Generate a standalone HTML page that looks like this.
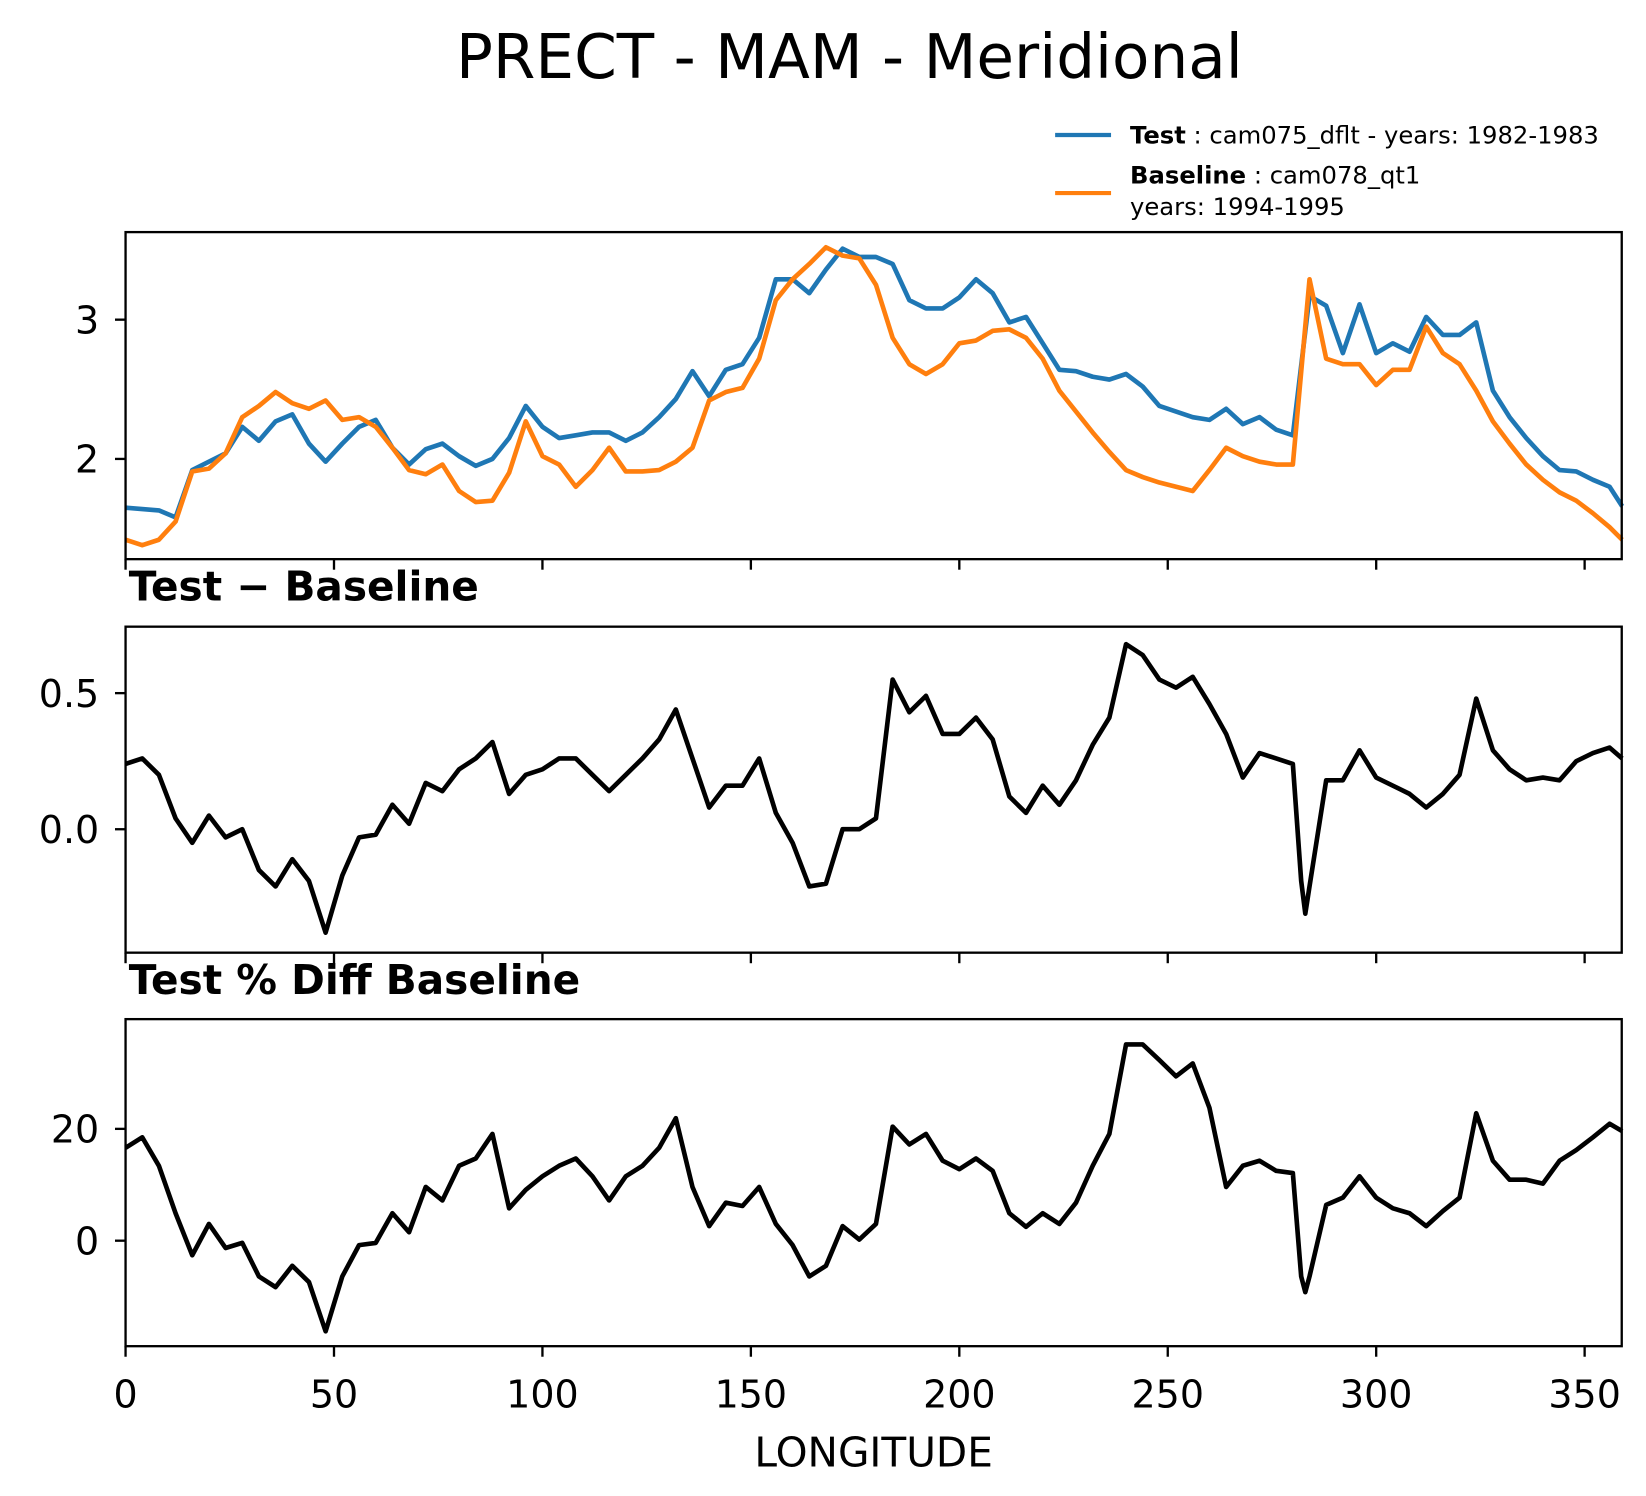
<!DOCTYPE html>
<html><head><meta charset="utf-8"><style>
html,body{margin:0;padding:0;background:#fff;}
svg{display:block;font-family:"DejaVu Sans","Liberation Sans",sans-serif;}
</style></head><body>
<svg id="chart" width="1646" height="1496" viewBox="0 0 1560 1418" preserveAspectRatio="none" xmlns="http://www.w3.org/2000/svg">
<text x="805" y="74" font-size="58" text-anchor="middle">PRECT - MAM - Meridional</text>
<g>
<line x1="1000" y1="128" x2="1053" y2="128" stroke="#1f77b4" stroke-width="4"/>
<text x="1071" y="136" font-size="23"><tspan font-weight="bold">Test</tspan> : cam075_dflt - years: 1982-1983</text>
<line x1="1000" y1="183" x2="1053" y2="183" stroke="#ff7f0e" stroke-width="4"/>
<text x="1071" y="174" font-size="23"><tspan font-weight="bold">Baseline</tspan> : cam078_qt1</text>
<text x="1071" y="204" font-size="23">years: 1994-1995</text>
</g>
<text x="122" y="569" font-size="38.5" font-weight="bold">Test − Baseline</text>
<text x="122" y="942" font-size="38.5" font-weight="bold">Test % Diff Baseline</text>
<text x="828" y="1390" font-size="38.5" text-anchor="middle">LONGITUDE</text>
<g id="plots"></g>
</svg>
<script>
const lonTop=[0,4,8,12,16,20,24,28,32,36,40,44,48,52,56,60,64,68,72,76,80,84,88,92,96,100,104,108,112,116,120,124,128,132,136,140,144,148,152,156,160,164,168,172,176,180,184,188,192,196,200,204,208,212,216,220,224,228,232,236,240,244,248,252,256,260,264,268,272,276,280,284,288,292,296,300,304,308,312,316,320,324,328,332,336,340,344,348,352,356,359];
const testVals=[1.65,1.64,1.63,1.58,1.92,1.98,2.04,2.23,2.13,2.27,2.32,2.11,1.98,2.11,2.23,2.28,2.08,1.96,2.07,2.11,2.02,1.95,2.0,2.15,2.38,2.23,2.15,2.17,2.19,2.19,2.13,2.19,2.30,2.43,2.63,2.45,2.64,2.68,2.87,3.29,3.29,3.19,3.36,3.51,3.45,3.45,3.40,3.14,3.08,3.08,3.16,3.29,3.19,2.98,3.02,2.83,2.64,2.63,2.59,2.57,2.61,2.52,2.38,2.34,2.30,2.28,2.36,2.25,2.30,2.21,2.17,3.17,3.10,2.76,3.11,2.76,2.83,2.77,3.02,2.89,2.89,2.98,2.49,2.30,2.15,2.02,1.92,1.91,1.85,1.80,1.66];
const baseVals=[1.42,1.38,1.42,1.55,1.91,1.93,2.04,2.30,2.38,2.48,2.40,2.36,2.42,2.28,2.30,2.23,2.08,1.92,1.89,1.96,1.77,1.69,1.70,1.90,2.27,2.02,1.96,1.80,1.92,2.08,1.91,1.91,1.92,1.98,2.08,2.42,2.48,2.51,2.72,3.14,3.29,3.40,3.52,3.46,3.44,3.25,2.87,2.68,2.61,2.68,2.83,2.85,2.92,2.93,2.87,2.72,2.49,2.34,2.19,2.05,1.92,1.87,1.83,1.80,1.77,1.92,2.08,2.02,1.98,1.96,1.96,3.29,2.72,2.68,2.68,2.53,2.64,2.64,2.95,2.76,2.68,2.49,2.27,2.11,1.96,1.85,1.76,1.70,1.61,1.51,1.42];
const lonDiff=[0,4,8,12,16,20,24,28,32,36,40,44,48,52,56,60,64,68,72,76,80,84,88,92,96,100,104,108,112,116,120,124,128,132,136,140,144,148,152,156,160,164,168,172,176,180,184,188,192,196,200,204,208,212,216,220,224,228,232,236,240,244,248,252,256,260,264,268,272,276,280,282,283,284,288,292,296,300,304,308,312,316,320,324,328,332,336,340,344,348,352,356,359];
const diffVals=[0.24,0.26,0.20,0.04,-0.05,0.05,-0.03,0.0,-0.15,-0.21,-0.11,-0.19,-0.38,-0.17,-0.03,-0.02,0.09,0.02,0.17,0.14,0.22,0.26,0.32,0.13,0.20,0.22,0.26,0.26,0.20,0.14,0.20,0.26,0.33,0.44,0.26,0.08,0.16,0.16,0.26,0.06,-0.05,-0.21,-0.20,0.0,0.0,0.04,0.55,0.43,0.49,0.35,0.35,0.41,0.33,0.12,0.06,0.16,0.09,0.18,0.31,0.41,0.68,0.64,0.55,0.52,0.56,0.46,0.35,0.19,0.28,0.26,0.24,-0.19,-0.31,-0.21,0.18,0.18,0.29,0.19,0.16,0.13,0.08,0.13,0.20,0.48,0.29,0.22,0.18,0.19,0.18,0.25,0.28,0.30,0.26];
const pctVals=[16.6,18.5,13.4,4.9,-2.6,3.0,-1.3,-0.4,-6.4,-8.3,-4.5,-7.4,-16.2,-6.4,-0.8,-0.4,4.9,1.5,9.6,7.2,13.4,14.7,19.1,5.8,9.1,11.5,13.4,14.7,11.5,7.2,11.5,13.4,16.6,21.9,9.6,2.6,6.8,6.2,9.6,3.0,-0.8,-6.4,-4.5,2.6,0.2,3.0,20.4,17.2,19.1,14.3,12.8,14.7,12.5,4.9,2.5,4.9,3.0,6.8,13.4,19.1,35.1,35.1,32.3,29.4,31.7,23.8,9.6,13.4,14.3,12.5,12.1,-6.4,-9.2,-6.4,6.4,7.7,11.5,7.7,5.8,4.9,2.6,5.3,7.7,22.8,14.3,10.9,10.9,10.2,14.3,16.2,18.5,20.9,19.6];
const xTicks=[0,50,100,150,200,250,300,350];
const topTicks=[2,3];
const diffTicks=[0.0,0.5];
const diffTickLabels=["0.0","0.5"];
const pctTicks=[0,20];

const NS="http://www.w3.org/2000/svg";
const g=document.getElementById('plots');
const X0=119,X1=1537,LMAX=358.9;
const xs=v=>X0+(v/LMAX)*(X1-X0);
function mk(tag,attrs,parent){const e=document.createElementNS(NS,tag);for(const k in attrs)e.setAttribute(k,attrs[k]);(parent||g).appendChild(e);return e;}
function panel(name,top,bot,vAtTop,vAtBot,yt,ytl,showX){
  const ys=v=>top+(vAtTop-v)/(vAtTop-vAtBot)*(bot-top);
  const grp=mk('g',{});
  
  
  yt.forEach((t,i)=>{
    const y=ys(t);
    const tl=mk('line',{x1:X0-10,x2:X0,y1:y,y2:y,stroke:'#000','stroke-width':2.2},grp);
    
    
    const tx=mk('text',{x:X0-25,y:y+13,'font-size':36,'text-anchor':'end'},grp);
    
    
    tx.textContent=ytl[i];
  });
  xTicks.forEach(t=>{
    const x=xs(t);
    const tl=mk('line',{x1:x,x2:x,y1:bot,y2:bot+10,stroke:'#000','stroke-width':2.2},grp);
    
    
    if(showX){
      const tx=mk('text',{x:x,y:bot+58,'font-size':36,'text-anchor':'middle'},grp);
      
      
      tx.textContent=String(t);
    }
  });
  return {grp,ys};
}
function series(p,lon,vals,color,name){
  const d=lon.map((l,i)=>(i?'L':'M')+xs(l).toFixed(1)+' '+p.ys(vals[i]).toFixed(1)).join(' ');
  const path=mk('path',{d:d,fill:'none',stroke:color,'stroke-width':4.4,'stroke-linejoin':'round'},p.grp);
  
  
}
function frame(p,top,bot,name){
  const r=mk('rect',{x:X0,y:top,width:X1-X0,height:bot-top,fill:'none',stroke:'#000','stroke-width':2.2},p.grp);
  
  
}
const p1=panel('top',220,530,3+(303-220)/132,3-(530-303)/132,topTicks,topTicks.map(String),false);
series(p1,lonTop,testVals,'#1f77b4','test-line');
series(p1,lonTop,baseVals,'#ff7f0e','baseline-line');
frame(p1,220,530,'top');
const p2=panel('diff',594,903,(786-594)/258,(786-903)/258,diffTicks,diffTickLabels,false);
series(p2,lonDiff,diffVals,'#000','diff-line');
frame(p2,594,903,'diff');
const p3=panel('pct',966,1276,(1176-966)/5.3,(1176-1276)/5.3,pctTicks,pctTicks.map(String),true);
series(p3,lonDiff,pctVals,'#000','pct-diff-line');
frame(p3,966,1276,'pct');
</script>
</body></html>
